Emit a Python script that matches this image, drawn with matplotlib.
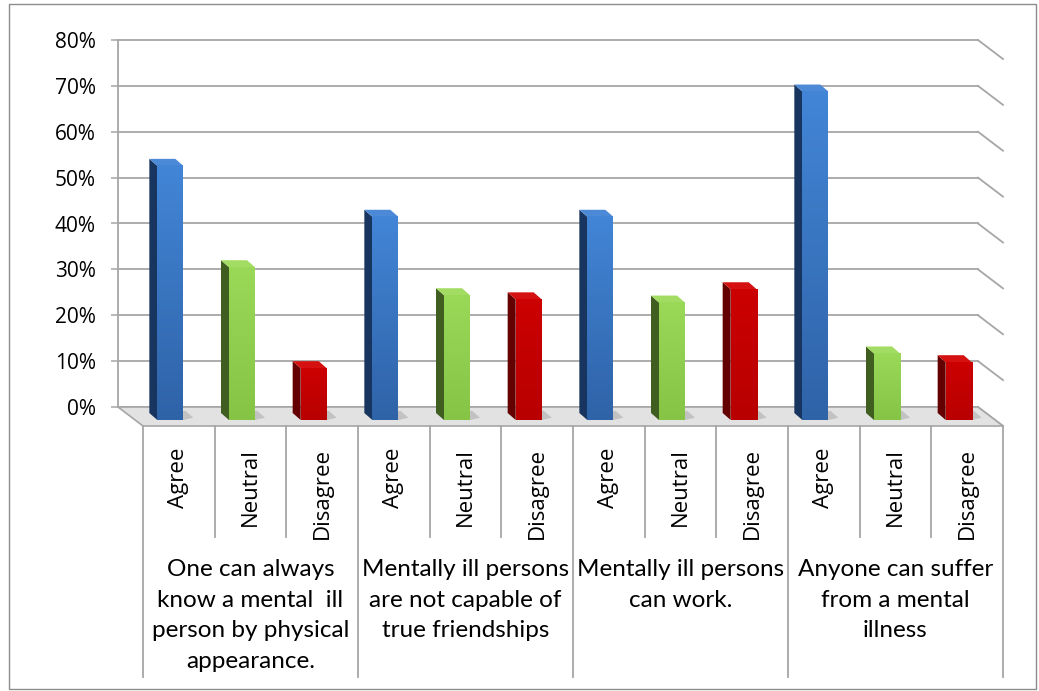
import numpy as np
import matplotlib
matplotlib.use('Agg')
import matplotlib.pyplot as plt
from matplotlib.patches import Polygon, Rectangle
from matplotlib.colors import LinearSegmentedColormap
from matplotlib import transforms

# Datos (porcentajes)
grupos = ['One can always\nknow a mental  ill\nperson by physical\nappearance.',
          'Mentally ill persons\nare not capable of\ntrue friendships',
          'Mentally ill persons\ncan work.',
          'Anyone can suffer\nfrom a mental\nillness']
respuestas = ['Agree', 'Neutral', 'Disagree']
agree = [55.4, 44.3, 44.3, 71.6]
neutral = [33.3, 27.2, 25.6, 14.5]
disagree = [11.3, 26.3, 28.5, 12.6]
yticks = [0, 10, 20, 30, 40, 50, 60, 70, 80]

# Colores: frente (arriba, abajo), lado, tapa
colores = {
    'Agree': (('#4285d6', '#2f63a8'), '#17355f', '#4c8ad8'),
    'Neutral': (('#9ad858', '#86c446'), '#3f5e1f', '#a3dc62'),
    'Disagree': (('#cc0000', '#b80000'), '#640000', '#d41010'),
}
GRIS = '#a6a6a6'

W, H = 1039, 691
fig = plt.figure(figsize=(W / 100, H / 100), dpi=100)
ax = fig.add_axes([118 / W, 1 - 407 / H, (978 - 118) / W, 367 / H])

PX_X = 860 / 12   # pixeles por categoria
PX_Y = 367 / 80   # pixeles por punto porcentual


def off(dx, dy):
    # desplazamiento en pixeles -> unidades de datos (dy positivo hacia abajo)
    return dx / PX_X, -dy / PX_Y


# profundidad del piso y posicion de las barras
fx, fy = off(25, 19)
bx, by = off(16.5, 13)
dx, dy = off(-8, -7)
ancho = 26 / PX_X

# cuadricula en la pared de fondo y pared derecha
for v in yticks:
    ax.plot([-0.5, 11.5], [v, v], color=GRIS, lw=1.3, zorder=1, clip_on=False)
    ax.plot([11.5, 11.5 + fx], [v, v + fy], color=GRIS, lw=1.3, zorder=1, clip_on=False)
ax.plot([-0.5, -0.5], [0, 80], color=GRIS, lw=1.3, zorder=1, clip_on=False)

# piso
piso = Polygon([(-0.5, 0), (11.5, 0), (11.5 + fx, fy), (-0.5 + fx, fy)],
               closed=True, facecolor='#e2e2e2', edgecolor=GRIS, lw=1.2,
               zorder=2, clip_on=False)
ax.add_patch(piso)

# barras 3D
valores = []
for g in range(4):
    valores += [agree[g], neutral[g], disagree[g]]
tipos = respuestas * 4
x = np.arange(12)
grad = np.linspace(0, 1, 64).reshape(-1, 1)

for xi, v, t in zip(x, valores, tipos):
    (f_arriba, f_abajo), lado, tapa = colores[t]
    xl = xi + bx - ancho / 2
    xr = xi + bx + ancho / 2
    # sombra en el piso
    ax.add_patch(Polygon([(xr, by), (xr + 0.14, by + 0.5), (xr + 0.14 + dx, by + dy + 0.5),
                          (xr + dx, by + dy)], closed=True, facecolor='#c2c2c2',
                         edgecolor='none', zorder=2.5, clip_on=False))
    ax.add_patch(Polygon([(xl, by), (xl, by + v), (xl + dx, by + v + dy), (xl + dx, by + dy)],
                         closed=True, facecolor=lado, edgecolor='none', zorder=3, clip_on=False))
    ax.add_patch(Polygon([(xl, by + v), (xr, by + v), (xr + dx, by + v + dy), (xl + dx, by + v + dy)],
                         closed=True, facecolor=tapa, edgecolor='none', zorder=3, clip_on=False))
    barra = ax.bar(xi + bx, v, width=ancho, bottom=by, color=f_abajo, zorder=4, clip_on=False)[0]
    cmap = LinearSegmentedColormap.from_list('g', [f_abajo, f_arriba])
    im = ax.imshow(grad, extent=[xl, xr, by, by + v], origin='lower', cmap=cmap,
                   aspect='auto', zorder=4.5, clip_on=False)
    im.set_clip_path(barra)

ax.set_xlim(-0.5, 11.5)
ax.set_ylim(0, 80)

# eje y
for s in ['top', 'right', 'bottom', 'left']:
    ax.spines[s].set_visible(False)
ax.set_yticks(yticks)
ax.set_yticklabels([f'{v}%' for v in yticks], fontsize=15, family='Open Sans', color='#000000')
ax.tick_params(axis='y', direction='out', length=5, width=1.1, color=GRIS, pad=11)
ax.set_xticks([])

# eje de categorias
tr = transforms.blended_transform_factory(ax.transData, fig.transFigure)
x0 = -0.5 + fx
for k in range(13):
    y_fin = 677 if k % 3 == 0 else 537
    ax.plot([x0 + k, x0 + k], [1 - 426 / H, 1 - y_fin / H], color=GRIS, lw=1.3,
            transform=tr, clip_on=False)

for i, t in enumerate(tipos):
    ax.text(x0 + 0.5 + i, 1 - 448 / H, t, rotation=90, ha='center', va='top',
            fontsize=16, family='Open Sans', transform=tr)

for g, nombre in enumerate(grupos):
    ax.text(x0 + 1.5 + 3 * g, 1 - 559 / H, nombre, ha='center', va='top',
            fontsize=17.5, family='Lato', linespacing=1.56, transform=tr)

# borde exterior
fig.patches.append(Rectangle((9 / W, 1 - 689 / H), 1027 / W, 685 / H, transform=fig.transFigure,
                             fill=False, edgecolor='#8c8c8c', lw=1.0))

plt.savefig('out.png', dpi=100)
